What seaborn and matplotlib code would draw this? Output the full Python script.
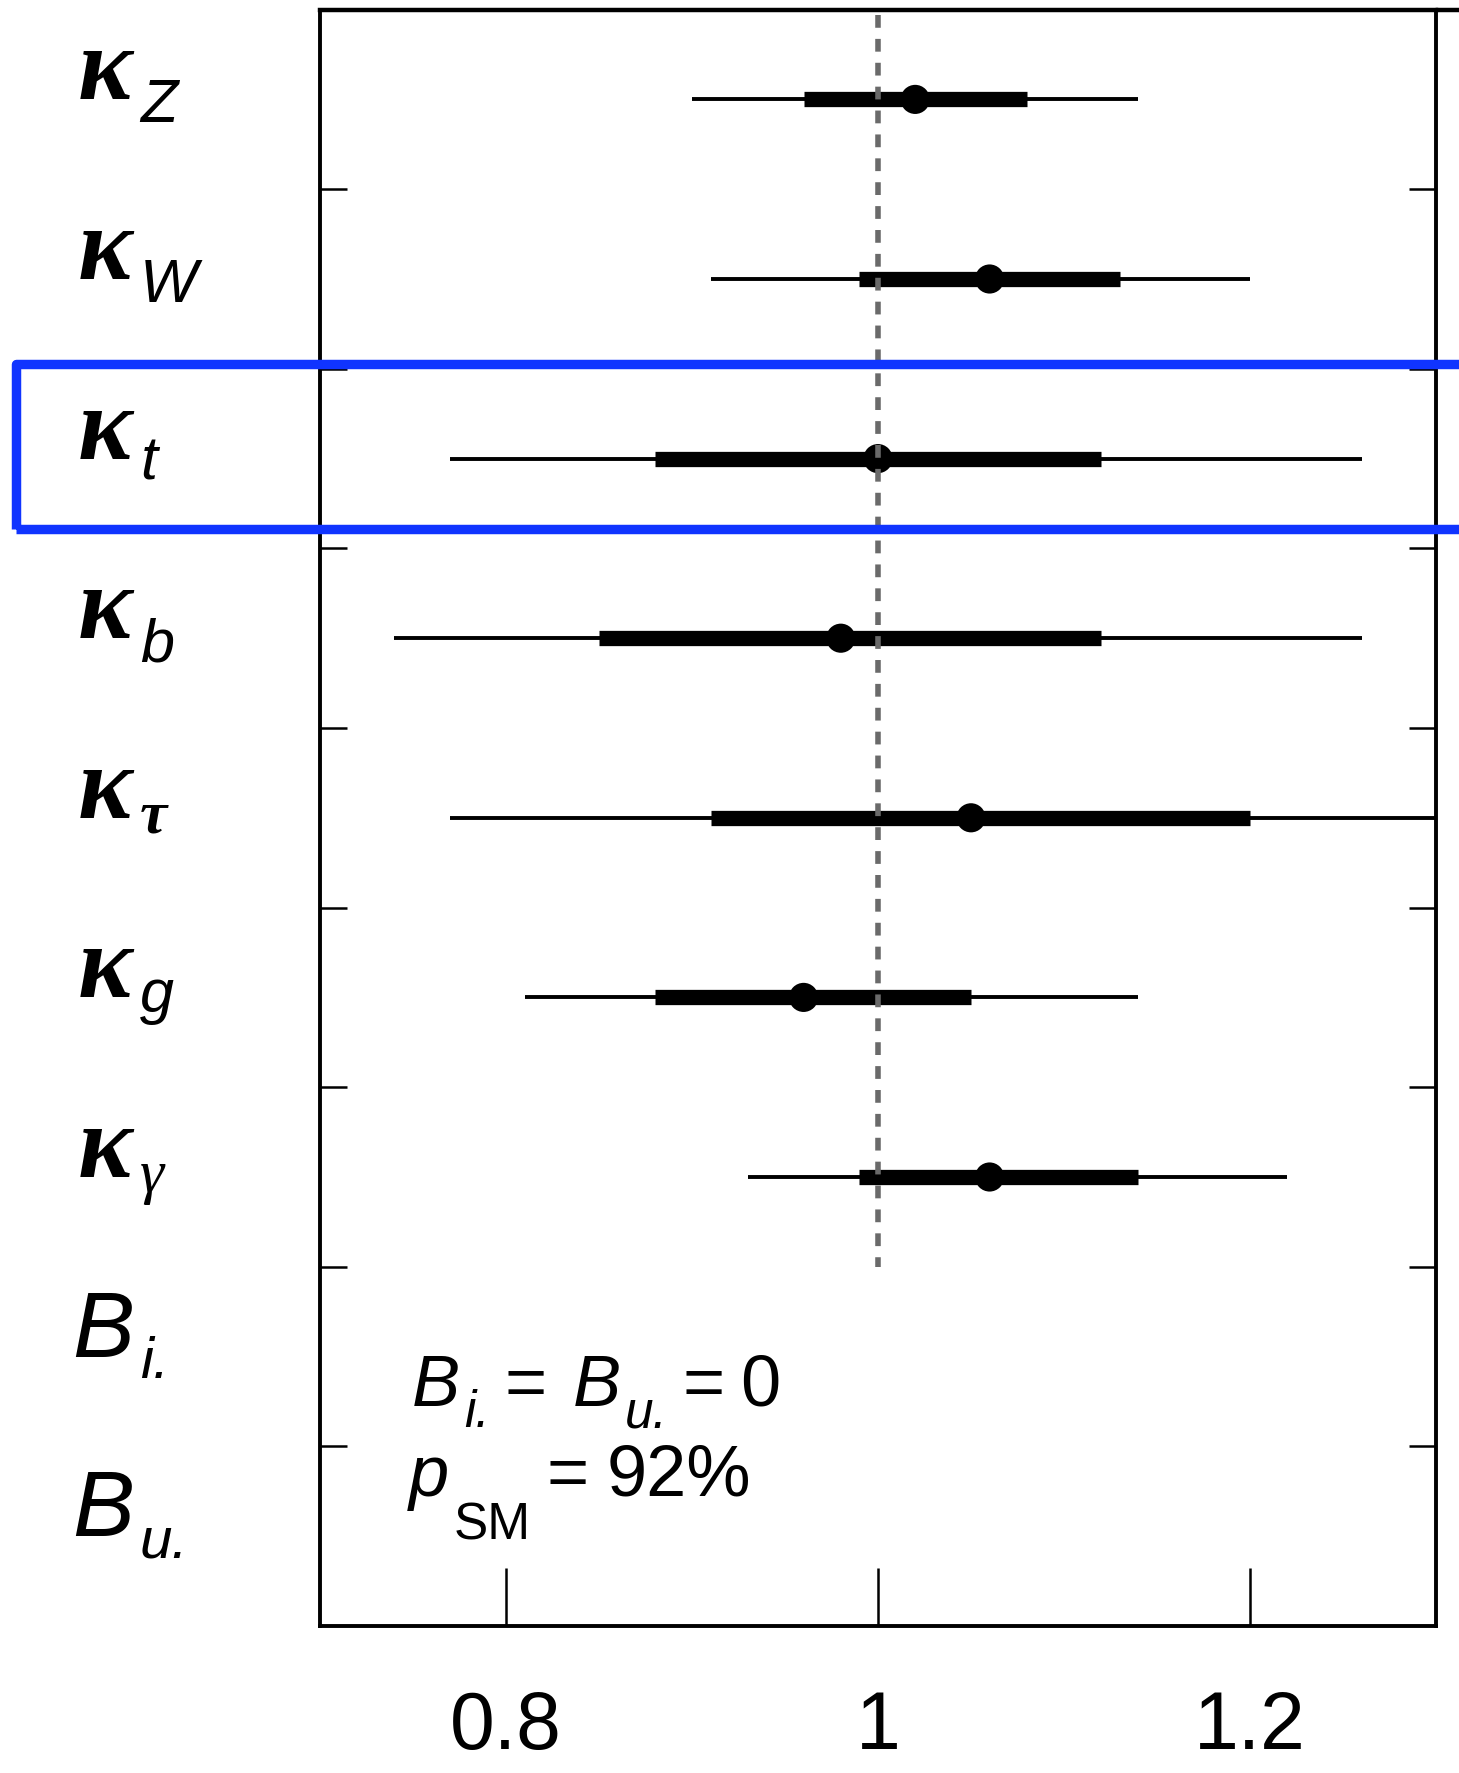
import numpy as np
import pandas as pd
import matplotlib
matplotlib.use('Agg')
import matplotlib.pyplot as plt
import seaborn as sns
from matplotlib import transforms
from matplotlib.patches import Rectangle
from matplotlib.lines import Line2D

# coupling modifiers, top to bottom
kappa_subs = ['Z', 'W', 't', 'b', 'τ', 'g', 'γ']
central = [1.02, 1.06, 1.00, 0.98, 1.05, 0.96, 1.06]
lo_1sig = [0.96, 0.99, 0.88, 0.85, 0.91, 0.88, 0.99]
hi_1sig = [1.08, 1.13, 1.12, 1.12, 1.20, 1.05, 1.14]
lo_2sig = [0.90, 0.91, 0.77, 0.74, 0.77, 0.81, 0.93]
hi_2sig = [1.14, 1.20, 1.26, 1.26, 1.32, 1.14, 1.22]
branching_subs = ['i.', 'u.']
x_ticks = [0.8, 1.0, 1.2]
x_ticklabels = ['0.8', '1', '1.2']
p_sm_text = '92%'

W, H = 1459, 1773
DPI = 100

sns.set_style('ticks')
plt.rcParams['font.family'] = ['Liberation Sans', 'DejaVu Sans']
plt.rcParams['text.color'] = 'black'
plt.rcParams['axes.edgecolor'] = 'black'
plt.rcParams['xtick.color'] = 'black'
plt.rcParams['ytick.color'] = 'black'

n_rows = len(kappa_subs) + len(branching_subs)
df = pd.DataFrame({
    'param': kappa_subs,
    'row': np.arange(len(kappa_subs)) + 0.5,
    'central': central,
    'lo1': lo_1sig, 'hi1': hi_1sig,
    'lo2': lo_2sig, 'hi2': hi_2sig,
})

fig = plt.figure(figsize=(W / DPI, H / DPI), dpi=DPI)
ax = fig.add_axes([320 / W, 1 - 1626 / H, (1436 - 320) / W, (1626 - 9.6) / H])

# intervals and best-fit points
ax.hlines(df['row'], df['lo2'], df['hi2'], color='black', lw=2.8, zorder=2)
ax.hlines(df['row'], df['lo1'], df['hi1'], color='black', lw=11, zorder=3)
sns.scatterplot(data=df, x='central', y='row', color='black', s=440,
                edgecolor='none', zorder=4, ax=ax, legend=False)

# SM reference line
ax.vlines(1.0, 0.03, len(kappa_subs), color='#6a6a6a', lw=4.0,
          linestyles=(0, (2.3, 2.0)), zorder=5)

ax.set_xlim(0.7, 1.3)
ax.set_ylim(n_rows, 0)
ax.set_xlabel('')
ax.set_ylabel('')

ax.set_xticks(x_ticks)
ax.set_xticklabels(x_ticklabels, fontsize=58)
ax.set_yticks(np.arange(1, n_rows))
ax.set_yticklabels([])
ax.tick_params(axis='x', direction='in', length=42, width=1.8, pad=46)
ax.tick_params(axis='y', direction='in', length=19.5, width=1.8,
               left=True, right=True)
for side in ['left', 'right', 'bottom']:
    ax.spines[side].set_linewidth(2.8)
ax.spines['top'].set_linewidth(3.2)

# top frame line runs past the right spine
fig.add_artist(Line2D([1436 / W, 1.0], [1 - 9.6 / H, 1 - 9.6 / H],
                      transform=fig.transFigure, color='black', lw=3.2))

# row labels
blend = transforms.blended_transform_factory(fig.transFigure, ax.transData)
sub_drop = {'Z': 23, 'W': 23, 't': 21, 'b': 23, 'τ': 15, 'g': 15, 'γ': 15}
for i, sub in enumerate(kappa_subs):
    y = i + 0.5
    ax.text(78 / W, y, 'κ', transform=blend, family='Liberation Serif',
            fontweight='bold', style='italic', fontsize=74, va='baseline',
            ha='left')
    greek = sub in ('τ', 'γ')
    ax.annotate(sub, xy=(140 / W, y), xycoords=blend,
                xytext=(0, -sub_drop[sub]), textcoords='offset pixels',
                family='Liberation Serif' if greek else 'Liberation Sans',
                fontweight='bold' if sub == 'τ' else 'normal',
                style='italic', fontsize=44,
                va='baseline', ha='left')
for j, sub in enumerate(branching_subs):
    y = len(kappa_subs) + j + 0.5
    ax.text(72 / W, y, 'B', transform=blend, style='italic', fontsize=67,
            va='baseline', ha='left')
    ax.annotate(sub, xy=(140 / W, y), xycoords=blend, xytext=(0, -21),
                textcoords='offset pixels', style='italic', fontsize=42,
                va='baseline', ha='left')


def put(px, py, s, size, italic=False):
    fig.text(px / W, 1 - py / H, s, fontsize=size,
             style='italic' if italic else 'normal', va='baseline', ha='left')


# fit summary
put(412, 1406, 'B', 52, True)
put(464, 1427, 'i.', 37, True)
put(505, 1406, '=', 52)
put(573, 1406, 'B', 52, True)
put(625, 1427, 'u.', 37, True)
put(682, 1406, '=', 52)
put(740, 1406, '0', 52)
put(409, 1496, 'p', 52, True)
put(454, 1540, 'SM', 37)
put(547, 1496, '=', 52)
put(607, 1496, p_sm_text, 52)

# highlighted row
fig.add_artist(Rectangle((16 / W, 1 - 529 / H), (1500 - 16) / W, 165 / H,
                         transform=fig.transFigure, fill=False,
                         edgecolor='#1034ff', lw=6.8, joinstyle='round',
                         zorder=10))

fig.savefig('out.png', dpi=DPI)
